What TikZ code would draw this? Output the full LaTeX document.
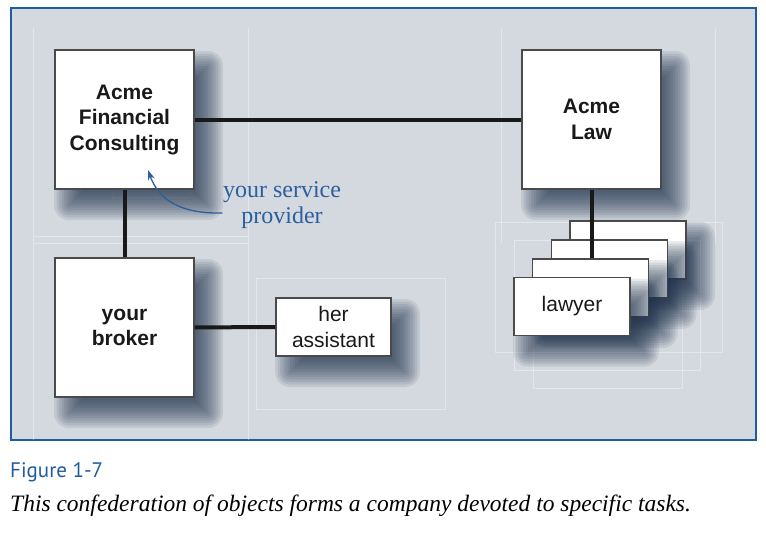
\documentclass[tikz,border=0pt]{standalone}
\usepackage{fontspec}
\setmainfont{Liberation Serif}
\setsansfont{Liberation Sans}
\newfontfamily\figfont{PT Sans}
\usepackage{tikz}
\usetikzlibrary{arrows.meta}

\definecolor{framefill}{HTML}{D4D9DF}
\definecolor{frameblue}{HTML}{1F5C9C}
\definecolor{shadownavy}{HTML}{22344E}
\definecolor{noteblue}{HTML}{2B5F9E}
\definecolor{boxline}{HTML}{4A4A4A}

% soft shadow: centre x, centre y, half width, half height
\newcommand{\softshadow}[4]{%
  \foreach \k in {-6,...,6}{%
    \pgfmathsetmacro{\grow}{2.5*\k}%
    \pgfmathsetmacro{\rnd}{max(0.5,\grow)}%
    \pgfmathsetmacro{\xa}{#1-#3+14-\grow}%
    \pgfmathsetmacro{\ya}{#2-#4+16-\grow}%
    \pgfmathsetmacro{\xb}{#1+#3+14+\grow}%
    \pgfmathsetmacro{\yb}{#2+#4+16+\grow}%
    \fill[shadownavy, opacity=.1, rounded corners=\rnd pt] (\xa,\ya) rectangle (\xb,\yb);
  }}

\begin{document}
\begin{tikzpicture}[x=1pt, y=-1pt,
  box/.style={draw=boxline, line width=1.2pt, fill=white, inner sep=0pt, align=center, text=black!90,
      font=\sffamily\bfseries\fontsize{21}{25.5}\selectfont},
  bigbox/.style={box, minimum width=139pt, minimum height=139pt},
  smallbox/.style={box, font=\sffamily\fontsize{21}{26}\selectfont, minimum width=116pt, minimum height=58pt},
  link/.style={line width=4pt, draw=black!90},
  guide/.style={draw=white, opacity=.35, line width=.6pt},
  note/.style={align=center, text=noteblue, font=\fontsize{24}{26}\selectfont}]
  \useasboundingbox (0,0) rectangle (766,536);
  % frame
  \draw[frameblue, line width=2pt, fill=framefill] (11,8) rectangle (756,440);
  \draw[guide] (33,28) -- (33,440) (248,28) -- (248,440) (33,236) -- (248,236) (33,243) -- (248,243);
  \draw[guide] (256,278) rectangle (445,409) (112,189) rectangle (190,197);
  \draw[guide] (501,28) -- (501,243) (715,28) -- (715,243);
  \draw[guide] (495,222) rectangle (722,352) (514,240) rectangle (700,370) (533,258) rectangle (682,388);

  \softshadow{124.5}{119.5}{69.5}{69.5}
  \softshadow{591.5}{119.5}{69.5}{69.5}
  \softshadow{124.5}{327.5}{69.5}{69.5}
  \softshadow{333.5}{327}{57.5}{29}
  \node[bigbox] (fc) at (124.5,119.5) {Acme\\Financial\\Consulting};
  \node[bigbox] (law) at (591.5,119.5) {Acme\\Law};
  \node[bigbox] (broker) at (124.5,327.5) {your\\broker};
  \node[smallbox, minimum width=115pt] (assistant) at (333.5,327) {her\\assistant};

  % stack of lawyers
  \softshadow{628}{250}{58}{29}
  \node[smallbox] (l4) at (628,250) {};
  \softshadow{609.5}{269}{58}{29}
  \node[smallbox] (l3) at (609.5,269) {};
  \softshadow{590.5}{288}{58}{29}
  \node[smallbox] (l2) at (590.5,288) {};
  \softshadow{572}{306.5}{58}{29}
  \node[smallbox] (l1) at (572,306.5) {lawyer};

  \draw[link] (fc) -- (law);
  \draw[link] (fc) -- (broker);
  \draw[link] (broker) -- (assistant);
  \draw[link] (law.south) -- (law.south |- l2.north);

  \node[note] (provider) at (282,205) {your service\\provider};
  \coordinate (tip) at (148,170);
  \draw[noteblue, line width=1.3pt, -{Stealth[length=10pt,width=7pt]}] ([shift={(3,8)}]provider.west)
    .. controls (178,214) and (158,198) .. (tip);

  % caption
  \node[anchor=base west, inner sep=0pt, text=frameblue, font=\figfont\fontsize{21}{24}\selectfont]
    (fig) at (10,477) {Figure 1-7};
  \node[anchor=base west, inner sep=0pt, font=\itshape\fontsize{23.5}{26}\selectfont]
    (cap) at (10,511) {This confederation of objects forms a company devoted to specific tasks.};
\end{tikzpicture}
\end{document}
